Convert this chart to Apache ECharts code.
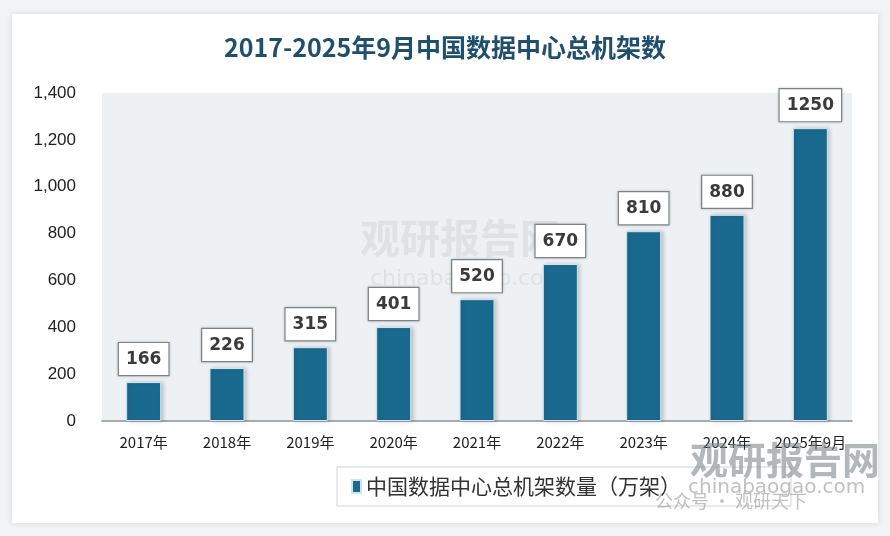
<!DOCTYPE html>
<html><head><meta charset="utf-8">
<script src="https://cdn.jsdelivr.net/npm/echarts@6/dist/echarts.min.js"></script>
<style>html,body{margin:0;padding:0;background:#f2f3f4;}#c{width:890px;height:536px;}</style>
</head><body><div id="c"></div>
<script>
var categories = ['2017年','2018年','2019年','2020年','2021年','2022年','2023年','2024年','2025年9月'];
var values = [166, 226, 315, 401, 520, 670, 810, 880, 1250];
var titleText = '2017-2025年9月中国数据中心总机架数';
var seriesName = '中国数据中心总机架数量（万架）';

var chart = echarts.init(document.getElementById('c'));
chart.setOption({
  backgroundColor: '#f2f3f4',
  graphic: [
    {type:'rect', shape:{x:12,y:14,width:866,height:509}, style:{fill:'#ffffff', shadowBlur:6, shadowColor:'rgba(0,0,0,0.12)'}, z:-10},
    {type:'rect', shape:{x:102,y:93,width:750,height:328}, style:{fill:'#eef1f3'}, z:-5},
    {type:'text', left:360, top:218, style:{text:'观研报告网', font:'bold 40px "Noto Sans CJK SC"', fill:'rgba(180,180,180,0.25)'}, z:-1},
    {type:'text', left:370, top:268, style:{text:'chinabaogao.com', font:'22px "DejaVu Sans"', fill:'rgba(180,180,180,0.25)'}, z:-1},
    {type:'text', left:690, top:441, style:{text:'观研报告网', font:'bold 38px "Noto Sans CJK SC"', fill:'rgba(130,135,140,0.6)'}, z:100},
    {type:'text', left:688, top:478, style:{text:'chinabaogao.com', font:'20px "DejaVu Sans"', fill:'rgba(140,140,140,0.55)'}, z:100},
    {type:'text', left:655, top:492, style:{text:'公众号 · 观研天下', font:'18px "Noto Sans CJK SC"', fill:'rgba(150,150,150,0.6)'}, z:100}
  ],
  title: {
    text: titleText, left: 'center', top: 30,
    textStyle: {fontSize: 25, fontWeight: 'bold', color: '#1f4f6e', fontFamily: '"Liberation Sans Narrow","Noto Sans CJK SC",sans-serif'}
  },
  legend: {
    bottom: 30, left: 337,
    data: [seriesName],
    icon: 'rect', itemWidth: 9, itemHeight: 13, itemGap: 6,
    padding: [9, 110, 9, 14],
    borderColor: '#d0d5d8', borderWidth: 1, backgroundColor: '#ffffff',
    textStyle: {fontSize: 21, color: '#333', fontFamily: '"Noto Sans CJK SC",sans-serif'}
  },
  grid: {left: 102, right: 38, top: 93, bottom: 115},
  xAxis: {
    type: 'category', data: categories,
    axisLine: {lineStyle: {color: '#8a9399', width: 1.5}},
    axisTick: {show: false},
    axisLabel: {interval: 0, fontSize: 15, color: '#222', margin: 14, fontFamily: '"Liberation Sans Narrow","Noto Sans CJK SC",sans-serif'}
  },
  yAxis: {
    type: 'value', min: 0, max: 1400, interval: 200,
    axisLine: {show: false}, axisTick: {show: false},
    splitLine: {show: false},
    axisLabel: {fontSize: 17, color: '#222', margin: 26, fontFamily: '"Liberation Sans Narrow",sans-serif',
      formatter: function(v){ return v.toLocaleString('en-US'); }}
  },
  series: [{
    name: seriesName, type: 'bar', data: values, barWidth: 35,
    itemStyle: {color: '#1a6a8f', borderColor: '#cfe6f2', borderWidth: 1, shadowBlur: 4, shadowColor: 'rgba(0,0,0,0.2)', shadowOffsetX: 2},
    label: {
      show: true, position: 'top', distance: 7,
      fontSize: 17, fontWeight: 'bold', color: '#3a3a3a', fontFamily: '"DejaVu Sans",sans-serif',
      backgroundColor: '#ffffff', borderColor: '#7f8a90', borderWidth: 1.2,
      padding: [8, 7, 7, 7],
      shadowBlur: 3, shadowColor: 'rgba(0,0,0,0.2)'
    }
  }]
});
</script></body></html>
